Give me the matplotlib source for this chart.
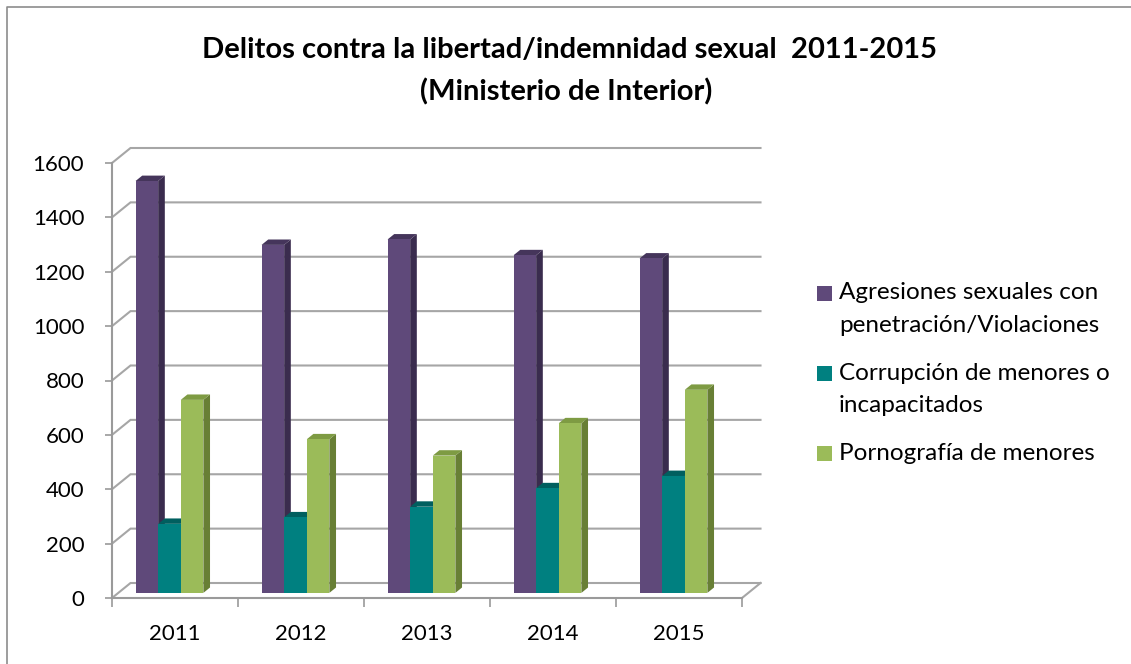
import matplotlib
matplotlib.use("Agg")
import matplotlib.pyplot as plt
from matplotlib.patches import Polygon, Rectangle
from matplotlib.lines import Line2D

# ---- data -----------------------------------------------------------------
years = ["2011", "2012", "2013", "2014", "2015"]
agresiones = [1515, 1280, 1300, 1242, 1230]
corrupcion = [254, 278, 317, 385, 430]
pornografia = [710, 565, 505, 624, 747]
series_labels = [
    ["Agresiones sexuales con", "penetración/Violaciones"],
    ["Corrupción de menores o", "incapacitados"],
    ["Pornografía de menores"],
]
y_ticks = [0, 200, 400, 600, 800, 1000, 1200, 1400, 1600]
title_lines = ["Delitos contra la libertad/indemnidad sexual  2011-2015",
               "(Ministerio de Interior)"]

# ---- style ----------------------------------------------------------------
plt.rcParams["font.family"] = ["Lato", "DejaVu Sans"]
FRONT = ["#5F497A", "#008080", "#9BBB59"]
TOP = ["#45355B", "#005F5F", "#7E9B43"]
SIDE = ["#3A2C4E", "#005050", "#687F35"]
GRID = "#A6A6A6"
AXIS = "#9A9A9A"

W, H, DPI = 1131, 664, 100
fig = plt.figure(figsize=(W / DPI, H / DPI), dpi=DPI)
fig.patch.set_facecolor("white")


def fx(px):
    return px / W


def fy(py):
    return 1 - py / H


# outer chart frame (left and top edges fall inside the canvas)
fig.add_artist(Line2D([fx(7), fx(7), fx(W + 5)], [fy(H + 5), fy(7), fy(7)],
                      transform=fig.transFigure, color="#8C8C8C", lw=1.2))

# plot area: front plane of the 3-D box
AX_L, AX_R, AX_T, AX_B = 112, 742, 163, 598
ax = fig.add_axes([fx(AX_L), fy(AX_B), (AX_R - AX_L) / W, (AX_B - AX_T) / H])
ncat = len(years)
ax.set_xlim(-0.5, ncat - 0.5)
ax.set_ylim(y_ticks[0], y_ticks[-1])
ax.patch.set_alpha(0)

# depth of the box, expressed in data units
ux = ncat / (AX_R - AX_L)
uy = (y_ticks[-1] - y_ticks[0]) / (AX_B - AX_T)
DX, DY = 18.5 * ux, 15.0 * uy

# back wall and side wall grid lines
x0, x1 = -0.5, ncat - 0.5
for v in y_ticks:
    ax.plot([x0, x0 + DX, x1 + DX], [v, v + DY, v + DY], color=GRID,
            lw=1.5, clip_on=False, zorder=1, solid_joinstyle="miter")
ax.plot([x1, x1 + DX], [0, DY], color=GRID, lw=1.5, clip_on=False, zorder=1)

# bars with top and side faces
series = [agresiones, corrupcion, pornografia]
BW = 22.6 * ux
START = -0.313
F0, F1 = 0.34, 0.70
base = F0 * DY
ddx, ddy = (F1 - F0) * DX, (F1 - F0) * DY
for i in range(ncat):
    for s, vals in enumerate(series):
        v = vals[i]
        xl = i + START + s * BW
        z = 3 + s
        ax.add_patch(Polygon([(xl + BW, base), (xl + BW + ddx, base + ddy),
                              (xl + BW + ddx, base + v + ddy), (xl + BW, base + v)],
                             closed=True, facecolor=SIDE[s], edgecolor="none",
                             clip_on=False, zorder=z))
        ax.add_patch(Polygon([(xl, base + v), (xl + BW, base + v),
                              (xl + BW + ddx, base + v + ddy), (xl + ddx, base + v + ddy)],
                             closed=True, facecolor=TOP[s], edgecolor="none",
                             clip_on=False, zorder=z + 0.1))
        ax.bar(xl, v, width=BW, bottom=base, align="edge", color=FRONT[s],
               edgecolor="none", clip_on=False, zorder=z + 0.2)

# axes lines and ticks
for side in ("top", "right"):
    ax.spines[side].set_visible(False)
for side in ("left", "bottom"):
    ax.spines[side].set_color(AXIS)
    ax.spines[side].set_linewidth(1.5)
    ax.spines[side].set_zorder(2)

ax.set_yticks(y_ticks)
ax.set_yticklabels([str(t) for t in y_ticks])
ax.tick_params(axis="y", length=5, width=1.2, color=AXIS, pad=15,
               labelsize=16, labelcolor="black")

ax.set_xticks([k - 0.5 for k in range(ncat + 1)])
ax.set_xticklabels([])
ax.set_xticks(range(ncat), minor=True)
ax.set_xticklabels(years, minor=True)
ax.tick_params(axis="x", which="major", length=6.5, width=1.2, color=AXIS)
ax.tick_params(axis="x", which="minor", length=0, pad=19, labelsize=16,
               labelcolor="black")

# title
fig.text(fx(570), fy(58), title_lines[0], ha="center", va="baseline",
         fontsize=21, fontweight="bold")
fig.text(fx(566), fy(100), title_lines[1], ha="center", va="baseline",
         fontsize=21, fontweight="bold")

# legend
LEG_X, SQ = 817, 15
y_line = 293
for s, lines in enumerate(series_labels):
    fig.add_artist(Rectangle((fx(LEG_X), fy(y_line + SQ / 2)), SQ / W, SQ / H,
                             transform=fig.transFigure, facecolor=FRONT[s],
                             edgecolor="none"))
    for k, line in enumerate(lines):
        fig.text(fx(839), fy(y_line + 32 * k), line, ha="left", va="center",
                 fontsize=17.5)
    y_line += 32 * (len(lines) - 1) + 48

fig.savefig("out.png", dpi=DPI)
